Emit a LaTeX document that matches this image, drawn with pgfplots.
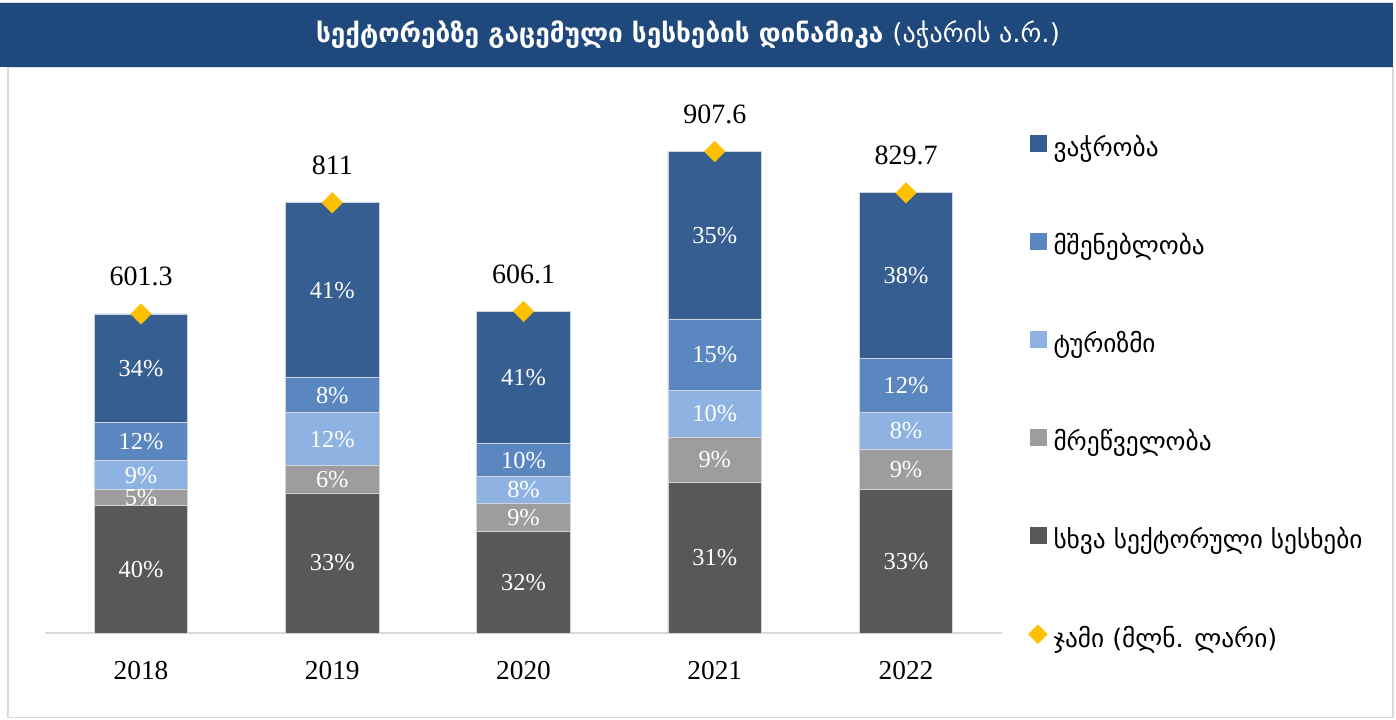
\documentclass[border=0pt]{standalone}
\usepackage{pgfplots}
\pgfplotsset{compat=1.18}
\usepackage{fontspec}
\setmainfont{Liberation Serif}
\newfontfamily\geo{DejaVu Sans}
\definecolor{cTrade}{RGB}{54,94,144}
\definecolor{cConstr}{RGB}{91,135,193}
\definecolor{cTour}{RGB}{142,179,226}
\definecolor{cManuf}{RGB}{157,157,157}
\definecolor{cOther}{RGB}{88,88,88}
\definecolor{cYel}{RGB}{255,192,0}
\definecolor{cTitle}{RGB}{31,73,125}
\definecolor{cFrame}{RGB}{217,217,217}
\definecolor{cEdge}{RGB}{205,212,224}
\begin{document}
\begin{tikzpicture}
\useasboundingbox (0,0) rectangle (1047pt,539.25pt);
\fill[white] (0,0) rectangle (1047pt,539.25pt);
\draw[cFrame, line width=1.3pt] (6pt,1.1pt) rectangle (1044.75pt,489pt);
\fill[cTitle] (0pt,489pt) rectangle (1044.75pt,537pt);
\draw[cFrame, line width=0.8pt] (0pt,537.6pt) -- (1044.75pt,537.6pt);
\node[text=white, font=\geo\bfseries\fontsize{19.6}{23}\selectfont] at (516pt,513pt)
  {სექტორებზე გაცემული სესხების დინამიკა {\mdseries (აჭარის ა.რ.)}};

\begin{axis}[
  at={(34.05pt,64.5pt)}, anchor=south west,
  scale only axis, width=717.2pt, height=397.9pt,
  xmin=-0.5, xmax=4.5, ymin=0, ymax=1000,
  enlargelimits=false, clip=false,
  ybar stacked, bar width=0.49,
  axis x line*=bottom, axis y line=none,
  x axis line style={cFrame, line width=1pt},
  xtick={0,1,2,3,4}, xticklabels={2018,2019,2020,2021,2022},
  ytick=\empty, major tick length=0pt,
  xticklabel style={anchor=base, yshift=-35pt, font=\fontsize{20.5}{24}\selectfont},
  legend style={draw=none, fill=none, at={(1.0234,0.945)}, anchor=north west,
    row sep=52.3pt, font=\geo\fontsize{19}{22}\selectfont,
    nodes={inner sep=0pt, text height=15pt, text depth=5pt},
    /tikz/every odd column/.append style={column sep=4.5pt}},
  legend cell align=left,
]
\addplot[fill=cOther, draw=cEdge, line width=0.6pt, forget plot] coordinates {(0,240.5) (1,264) (2,191) (3,284) (4,270)};
\addplot[fill=cManuf, draw=cEdge, line width=0.6pt, forget plot] coordinates {(0,30.1) (1,51) (2,53) (3,84.5) (4,77)};
\addplot[fill=cTour, draw=cEdge, line width=0.6pt, forget plot] coordinates {(0,54.1) (1,100) (2,51) (3,88.5) (4,69.5)};
\addplot[fill=cConstr, draw=cEdge, line width=0.6pt, forget plot] coordinates {(0,72.2) (1,66) (2,62) (3,135) (4,101.5)};
\addplot[fill=cTrade, draw=cEdge, line width=0.6pt, forget plot] coordinates {(0,204.4) (1,330) (2,249.1) (3,315.6) (4,311.7)};
\addlegendimage{legend image code/.code={\fill[cTrade] (0pt,-1pt) rectangle (12pt,11pt);}}
\addlegendentry{ვაჭრობა}
\addlegendimage{legend image code/.code={\fill[cConstr] (0pt,-1pt) rectangle (12pt,11pt);}}
\addlegendentry{მშენებლობა}
\addlegendimage{legend image code/.code={\fill[cTour] (0pt,-1pt) rectangle (12pt,11pt);}}
\addlegendentry{ტურიზმი}
\addlegendimage{legend image code/.code={\fill[cManuf] (0pt,-1pt) rectangle (12pt,11pt);}}
\addlegendentry{მრეწველობა}
\addlegendimage{legend image code/.code={\fill[cOther] (0pt,-1pt) rectangle (12pt,11pt);}}
\addlegendentry{სხვა სექტორული სესხები}
\addlegendimage{legend image code/.code={\fill[cYel] (6pt,-2pt) -- (13pt,5pt) -- (6pt,12pt) -- (-1pt,5pt) -- cycle;}}
\addlegendentry{ჯამი (მლნ. ლარი)}
\end{axis}

\begin{axis}[
  at={(34.05pt,64.5pt)}, anchor=south west,
  scale only axis, width=717.2pt, height=397.9pt,
  xmin=-0.5, xmax=4.5, ymin=0, ymax=1000,
  enlargelimits=false, clip=false, hide axis,
]
\addplot[draw=none, mark=none, nodes near coords, point meta=explicit symbolic,
  every node near coord/.append style={anchor=center, text=white, font=\fontsize{18.3}{20}\selectfont}]
  coordinates {
  (0,120.25)[40\%] (0,255.55)[5\%] (0,297.65)[9\%] (0,360.8)[12\%] (0,499.1)[34\%]
  (1,132)[33\%] (1,289.5)[6\%] (1,365)[12\%] (1,448)[8\%] (1,646)[41\%]
  (2,95.5)[32\%] (2,217.5)[9\%] (2,269.5)[8\%] (2,326)[10\%] (2,481.55)[41\%]
  (3,142)[31\%] (3,326.25)[9\%] (3,412.75)[10\%] (3,524.5)[15\%] (3,749.8)[35\%]
  (4,135)[33\%] (4,308.5)[9\%] (4,381.75)[8\%] (4,467.25)[12\%] (4,673.85)[38\%]
  };
\addplot[only marks, mark=square*, mark size=5.4pt, mark options={rotate=45, fill=cYel, draw=cYel},
  nodes near coords, point meta=explicit symbolic,
  every node near coord/.append style={anchor=base, yshift=21pt, text=black, font=\fontsize{21}{24}\selectfont}]
  coordinates {(0,601.3)[601.3] (1,811)[811] (2,606.1)[606.1] (3,907.6)[907.6] (4,829.7)[829.7]};
\end{axis}
\end{tikzpicture}
\end{document}
